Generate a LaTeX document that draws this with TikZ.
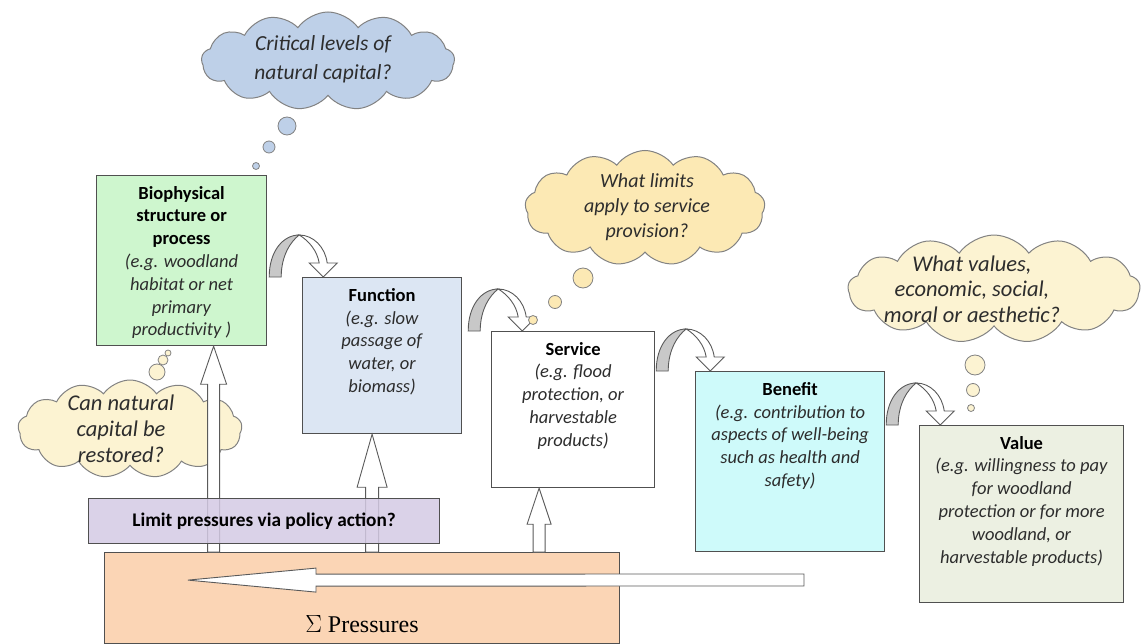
\documentclass[tikz,border=0pt]{standalone}
\usepackage{fontspec}
\setmainfont{Carlito}
\newfontfamily\pressfont{Liberation Serif}
\usetikzlibrary{shapes.symbols,calc}
\definecolor{bioC}{RGB}{206,246,206}
\definecolor{funC}{RGB}{220,230,243}
\definecolor{benC}{RGB}{206,250,250}
\definecolor{valC}{RGB}{236,240,226}
\definecolor{polC}{RGB}{212,202,228}
\definecolor{preC}{RGB}{251,213,181}
\definecolor{cloudA}{RGB}{190,208,232}
\definecolor{cloudB}{RGB}{252,233,180}
\definecolor{cloudC}{RGB}{252,243,210}
\definecolor{boxline}{RGB}{80,80,80}
\definecolor{cloudline}{RGB}{130,130,130}
\definecolor{arrowline}{RGB}{90,90,90}
\definecolor{legC}{RGB}{200,200,200}
\definecolor{textgray}{RGB}{45,45,45}
\newcommand{\hdl}[1]{\textbf{#1}}
\newcommand{\egl}[1]{{\color{textgray}\textit{#1}}}
\newcommand{\uparr}[5]{\filldraw[blockarrow] ([shift={(-#3,0)}]#1) -- ([shift={(-#3,#5)}]#2) -- ([shift={(-#4,#5)}]#2) -- (#2) -- ([shift={(#4,#5)}]#2) -- ([shift={(#3,#5)}]#2) -- ([shift={(#3,0)}]#1) -- cycle;}
\begin{document}
\begin{tikzpicture}[x=1pt,y=-1pt,
  box/.style={draw=boxline, line width=1.2pt, inner sep=0pt, anchor=north west},
  boxtxt/.style={anchor=north, align=center, font=\fontsize{18.5}{22.8}\selectfont, inner sep=0pt},
  cloudsh/.style={cloud, cloud puffs=13, cloud puff arc=110, cloud ignores aspect, draw=cloudline, line width=1pt, inner sep=0pt},
  cloudtxt/.style={align=center, inner sep=0pt, text=textgray},
  bubble/.style={draw=cloudline, line width=0.8pt},
  blockarrow/.style={fill=white, draw=arrowline, line width=0.9pt, line join=miter},
  bentarrow/.pic={
    \filldraw[fill=legC, draw=arrowline, line width=0.9pt] (0,0) .. controls (0,-26) and (14,-42) .. (30,-42) .. controls (22,-36) and (12,-22) .. (12,0) -- cycle;
    \filldraw[fill=white, draw=arrowline, line width=0.9pt] (30,-42) .. controls (44,-42) and (56,-30) .. (58,-14) -- (68,-14) -- (54,0) -- (40,-14) -- (50,-14) .. controls (48,-26) and (40,-36) .. (30,-42) -- cycle;
  }]
\useasboundingbox (0,0) rectangle (1142,644);

% clouds
\node[cloudsh, fill=cloudA, minimum width=253pt, minimum height=98pt] (c1) at (328,61) {};
\node[cloudtxt, font=\fontsize{21.5}{29}\selectfont\itshape] (c1t) at (323,59) {Critical levels of\\natural capital?};
\node[cloudsh, fill=cloudB, minimum width=240pt, minimum height=115pt] (c2) at (645,208) {};
\node[cloudtxt, font=\fontsize{20}{25}\selectfont\itshape] (c2t) at (647,207) {What limits\\apply to service\\provision?};
\node[cloudsh, fill=cloudC, minimum width=292pt, minimum height=108pt] (c3) at (994,289) {};
\node[cloudtxt, font=\fontsize{22.5}{25.5}\selectfont\itshape] (c3t) at (972,289) {What values,\\economic, social,\\moral or aesthetic?};
\node[cloudsh, fill=cloudC, minimum width=224pt, minimum height=98pt] (c4) at (130,429) {};
\node[cloudtxt, font=\fontsize{22.5}{26}\selectfont\itshape] (c4t) at (121,429) {Can natural\\capital be\\restored?};

% boxes
\node[box, fill=bioC, minimum width=170pt, minimum height=170pt] (bio) at (96,175) {};
\node[boxtxt] (biot) at ([yshift=-11pt]bio.north) {\hdl{Biophysical}\\\hdl{structure or}\\\hdl{process}\\\egl{(e.g. woodland}\\\egl{habitat or net}\\\egl{primary}\\\egl{productivity )}};
\node[box, fill=funC, minimum width=159pt, minimum height=156pt] (fun) at (302,277) {};
\node[boxtxt] (funt) at ([yshift=-11pt]fun.north) {\hdl{Function}\\\egl{(e.g. slow}\\\egl{passage of}\\\egl{water, or}\\\egl{biomass)}};
\node[box, fill=white, minimum width=163pt, minimum height=156pt] (ser) at (491,331) {};
\node[boxtxt] (sert) at ([yshift=-11pt]ser.north) {\hdl{Service}\\\egl{(e.g. flood}\\\egl{protection, or}\\\egl{harvestable}\\\egl{products)}};
\node[box, fill=benC, minimum width=189pt, minimum height=180pt] (ben) at (695,371) {};
\node[boxtxt] (bent) at ([yshift=-11pt]ben.north) {\hdl{Benefit}\\\egl{(e.g. contribution to}\\\egl{aspects of well-being}\\\egl{such as health and}\\\egl{safety)}};
\node[box, fill=valC, minimum width=204pt, minimum height=177pt] (val) at (919,425) {};
\node[boxtxt] (valt) at ([yshift=-11pt]val.north) {\hdl{Value}\\\egl{(e.g. willingness to pay}\\\egl{for woodland}\\\egl{protection or for more}\\\egl{woodland, or}\\\egl{harvestable products)}};

% pressures
\node[box, fill=preC, minimum width=515pt, minimum height=91pt] (press) at (104,552) {};
\node[font=\pressfont\fontsize{24}{28}\selectfont, inner sep=0pt] (presst) at (362,624) {$\Sigma$ Pressures};

% up arrows from pressures
\coordinate (t1) at ([xshift=32pt]bio.south);
\coordinate (s1) at (t1 |- press.north);
\uparr{s1}{t1}{6}{13}{38}
\coordinate (t2) at ([xshift=-10pt]fun.south);
\coordinate (s2) at (t2 |- press.north);
\uparr{s2}{t2}{6.5}{15}{53}
\coordinate (t3) at ([xshift=-34pt]ser.south);
\coordinate (s3) at (t3 |- press.north);
\uparr{s3}{t3}{6}{12}{36}

% policy box
\node[box, fill=polC, fill opacity=0.85, minimum width=351pt, minimum height=45pt] (pol) at (88,498) {};
\node[font=\fontsize{19.3}{22}\selectfont\bfseries, inner sep=0pt] (polt) at (pol.center) {Limit pressures via policy action?};

% long leftward arrow into pressures
\coordinate (ltip) at ([shift={(84,-18)}]press.west);
\coordinate (lend) at (804,580);
\filldraw[blockarrow] ([shift={(0,-6)}]lend) -- ([shift={(128,-6)}]ltip) -- ([shift={(128,-12)}]ltip) -- (ltip) -- ([shift={(128,12)}]ltip) -- ([shift={(128,6)}]ltip) -- ([shift={(0,6)}]lend) -- cycle;

% bent arrows between boxes
\pic at ([xshift=2pt]bio.east |- fun.north) {bentarrow};
\pic at ([xshift=6pt]fun.east |- ser.north) {bentarrow};
\pic at ([xshift=1pt]ser.east |- ben.north) {bentarrow};
\pic at ([xshift=1pt]ben.east |- val.north) {bentarrow};

% thought bubbles
\filldraw[bubble, fill=cloudA] (287,126) circle (9pt);
\filldraw[bubble, fill=cloudA] (269,147) circle (6pt);
\filldraw[bubble, fill=cloudA] (256,166) circle (3.5pt);
\filldraw[bubble, fill=cloudB] (583,278) circle (10pt);
\filldraw[bubble, fill=cloudB] (555,302) circle (6.5pt);
\filldraw[bubble, fill=cloudB] (533,320) circle (4.5pt);
\filldraw[bubble, fill=cloudC] (975,365) circle (10pt);
\filldraw[bubble, fill=cloudC] (973,390) circle (6.5pt);
\filldraw[bubble, fill=cloudC] (971,408) circle (3.5pt);
\filldraw[bubble, fill=cloudC] (157,372) circle (8pt);
\filldraw[bubble, fill=cloudC] (163,360) circle (5pt);
\filldraw[bubble, fill=cloudC] (168,353) circle (3pt);
\end{tikzpicture}
\end{document}
